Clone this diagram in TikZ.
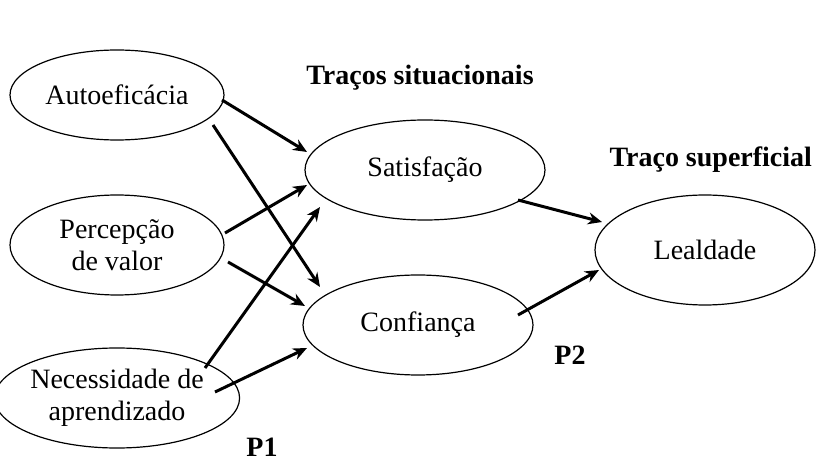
\documentclass[tikz,border=0pt]{standalone}
\usepackage{fontspec}
\setmainfont{Liberation Serif}
\usetikzlibrary{shapes.geometric,arrows.meta}
\begin{document}
\begin{tikzpicture}[x=1pt,y=-1pt,
  ell/.style={ellipse,draw,line width=1.2pt,inner sep=0pt,align=center,font=\fontsize{28}{32}\selectfont},
  arr/.style={line width=3pt,-{Stealth[length=14pt,width=12pt]}},
  lab/.style={font=\bfseries\fontsize{28}{32}\selectfont}]
\useasboundingbox (0,0) rectangle (820,470);
\node[ell,minimum width=214,minimum height=90] (a) at (117,95) {Autoeficácia};
\node[ell,minimum width=214,minimum height=100] (p) at (117,245) {Percepção\\de valor};
\node[ell,minimum width=220,minimum height=100] (n) at (117,398) {Necessidade de\\aprendizado};
\node[ell,minimum width=240,minimum height=100] (s) at (425,170) {Satisfação};
\node[ell,minimum width=230,minimum height=100] (c) at (418,325) {Confiança};
\node[ell,minimum width=220,minimum height=110] (l) at (705,250) {Lealdade};
\node[lab] (t1) at (420,78) {Traços situacionais};
\node[lab,anchor=west] (t2) at (606,160) {Traço superficial};
\node[lab] (p2) at (570,355) {P2};
\node[lab] (p1) at (262,447) {P1};
\coordinate (a1) at (222,100); \coordinate (s1) at (307,152);
\coordinate (a2) at (213,125); \coordinate (c1) at (320,287);
\coordinate (p1s) at (225,233); \coordinate (s2) at (307,185);
\coordinate (p2s) at (228,262); \coordinate (c2) at (305,306);
\coordinate (n1) at (205,368); \coordinate (s3) at (320,207);
\coordinate (n2) at (215,392); \coordinate (c3) at (307,348);
\coordinate (s4) at (518,200); \coordinate (l1) at (602,222);
\coordinate (c4) at (518,315); \coordinate (l2) at (599,270);
\draw[arr] (a1) -- (s1);
\draw[arr] (a2) -- (c1);
\draw[arr] (p1s) -- (s2);
\draw[arr] (p2s) -- (c2);
\draw[arr] (n1) -- (s3);
\draw[arr] (n2) -- (c3);
\draw[arr] (s4) -- (l1);
\draw[arr] (c4) -- (l2);
\end{tikzpicture}
\end{document}
